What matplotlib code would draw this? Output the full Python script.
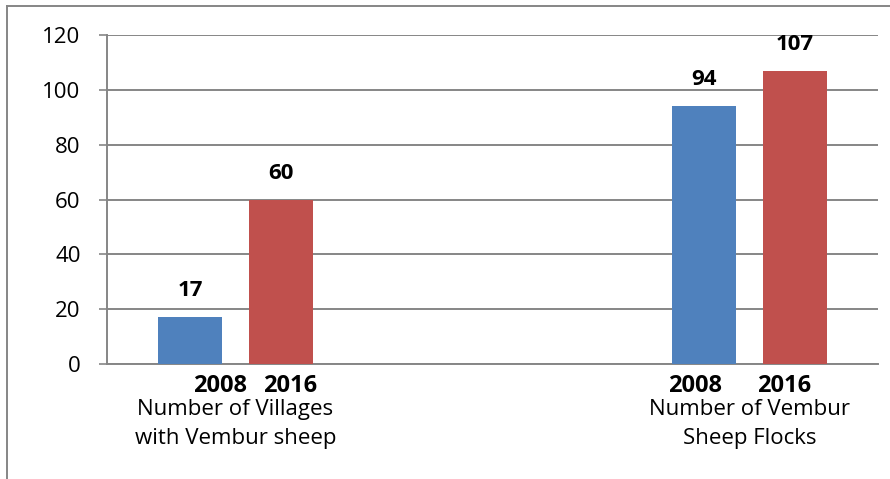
"""Vembur sheep: villages and flocks, 2008 vs 2016"""
import matplotlib.pyplot as plt
from matplotlib.lines import Line2D
import numpy as np

plt.rcParams['font.family'] = ['Open Sans', 'DejaVu Sans']

# data
groups = ['Number of Villages\nwith Vembur sheep', 'Number of Vembur\nSheep Flocks']
years = ['2008', '2016']
vals_2008 = [17, 94]
vals_2016 = [60, 107]
yticks = [0, 20, 40, 60, 80, 100, 120]

blue = '#4F81BD'
red = '#C0504D'
grey = '#868686'

fig = plt.figure(figsize=(8.9, 4.79), dpi=100)
ax = fig.add_axes([0.1202, 0.2401, 0.8663, 0.6868])

x = np.arange(len(groups))
off = 0.088
w = 0.1245
b1 = ax.bar(x - off, vals_2008, w, color=blue, zorder=3)
b2 = ax.bar(x + off, vals_2016, w, color=red, zorder=3)

# value labels
for bars, vals in [(b1, vals_2008), (b2, vals_2016)]:
    for rect, v in zip(bars, vals):
        ax.annotate(str(v), (rect.get_x() + rect.get_width() / 2, v),
                    xytext=(0, 19), textcoords='offset points',
                    ha='center', va='center', fontsize=16, fontweight='bold')

ax.set_xlim(-0.25, 1.25)
ax.set_ylim(0, 120)
ax.set_yticks(yticks)
ax.yaxis.grid(True, color=grey, lw=1.4, zorder=0)
ax.set_axisbelow(True)
ax.set_xticks([])
ax.tick_params(axis='y', length=6, width=1.2, color=grey, pad=13, labelsize=16)

for s in ['top', 'right']:
    ax.spines[s].set_visible(False)
for s in ['left', 'bottom']:
    ax.spines[s].set_color(grey)
    ax.spines[s].set_linewidth(1.4)

# year labels (sit a little off the bars, as in the original) and category labels
year_pos = [(-0.030, 0.107), (-0.105, 0.067)]
trans = ax.get_xaxis_transform()
for i, g in enumerate(groups):
    for yr, dx in zip(years, year_pos[i]):
        ax.text(i + dx, -0.066, yr, transform=trans, ha='center', va='center',
                fontsize=17, fontweight='bold')
    ax.text(i, -0.182, g, transform=trans, ha='center', va='center',
            fontsize=16, linespacing=1.5)

# chart area border (top and left visible)
fig.add_artist(Line2D([7 / 890, 1], [1 - 5.5 / 479, 1 - 5.5 / 479],
                      transform=fig.transFigure, color=grey, lw=1.4))
fig.add_artist(Line2D([7 / 890, 7 / 890], [0, 1 - 5.5 / 479],
                      transform=fig.transFigure, color=grey, lw=1.4))

fig.savefig('out.png', dpi=100)
